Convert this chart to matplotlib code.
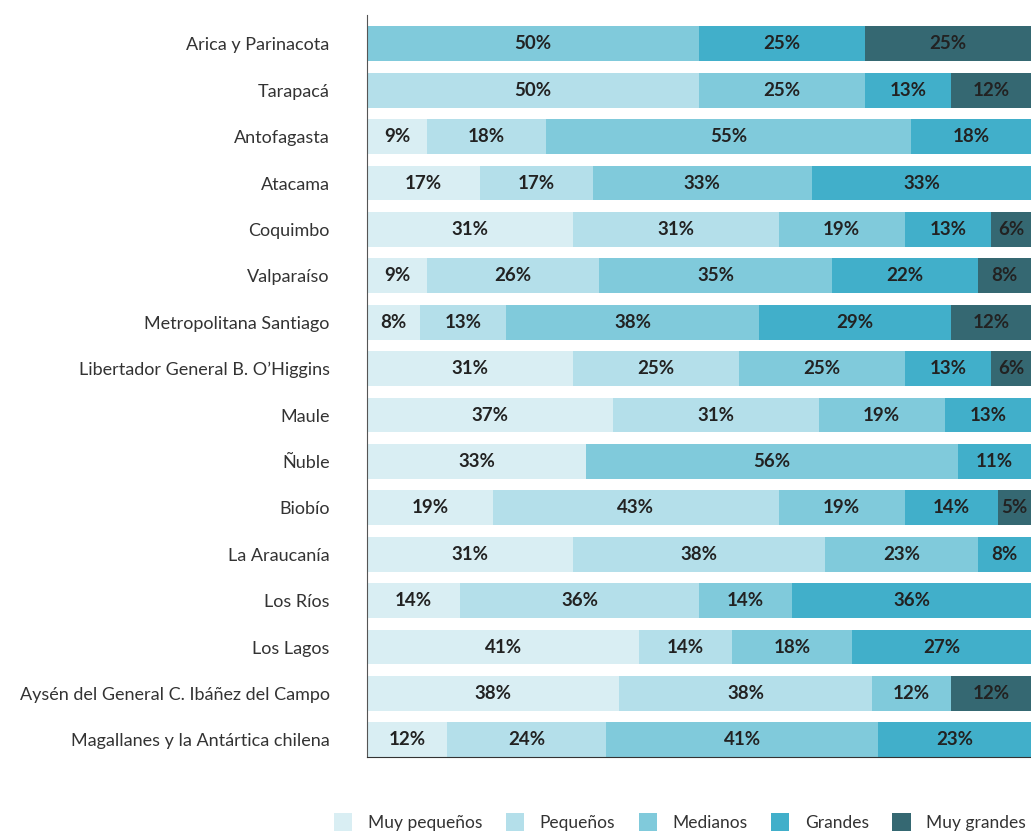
import numpy as np
import matplotlib.pyplot as plt

regiones = [
    "Arica y Parinacota", "Tarapacá", "Antofagasta", "Atacama", "Coquimbo",
    "Valparaíso", "Metropolitana Santiago", "Libertador General B. O’Higgins",
    "Maule", "Ñuble", "Biobío", "La Araucanía", "Los Ríos", "Los Lagos",
    "Aysén del General C. Ibáñez del Campo", "Magallanes y la Antártica chilena",
]
categorias = ["Muy pequeños", "Pequeños", "Medianos", "Grandes", "Muy grandes"]

muy_pequenos = [0, 0, 9, 17, 31, 9, 8, 31, 37, 33, 19, 31, 14, 41, 38, 12]
pequenos = [0, 50, 18, 17, 31, 26, 13, 25, 31, 0, 43, 38, 36, 14, 38, 24]
medianos = [50, 25, 55, 33, 19, 35, 38, 25, 19, 56, 19, 23, 14, 18, 12, 41]
grandes = [25, 13, 18, 33, 13, 22, 29, 13, 13, 11, 14, 8, 36, 27, 0, 23]
muy_grandes = [25, 12, 0, 0, 6, 8, 12, 6, 0, 0, 5, 0, 0, 0, 12, 0]

colores = ["#d9eef3", "#b4dfea", "#80cadb", "#41afca", "#356872"]

plt.rcParams["font.family"] = ["Lato", "DejaVu Sans"]

fig = plt.figure(figsize=(10.31, 8.33), dpi=100)
ax = fig.add_axes([0.356, 0.0912, 0.644, 0.891])

series = [muy_pequenos, pequenos, medianos, grandes, muy_grandes]
y = np.arange(len(regiones))
left = np.zeros(len(regiones))
for nombre, valores, color in zip(categorias, series, colores):
    valores = np.array(valores, dtype=float)
    ax.barh(y, valores, left=left, height=0.75, color=color, label=nombre)
    for yi, li, v in zip(y, left, valores):
        if v > 0:
            ax.text(li + v / 2, yi, f"{v:.0f}%", ha="center", va="center",
                    fontsize=13.5, fontweight="bold", color="#222222")
    left += valores

ax.set_xlim(0, 100)
ax.set_ylim(15.37, -0.625)
ax.set_yticks(y)
ax.set_yticklabels(regiones, fontsize=13, color="#333333")
ax.tick_params(axis="y", length=0, pad=27)
ax.set_xticks([])
for lado in ["top", "right"]:
    ax.spines[lado].set_visible(False)
ax.spines["left"].set_color("#555555")
ax.spines["bottom"].set_color("#333333")

fig.legend(loc="lower left", bbox_to_anchor=(0.309, -0.016), ncol=5,
           frameon=False, fontsize=12.5, handlelength=1.05, handleheight=1.2,
           columnspacing=1.35, handletextpad=0.9, labelcolor="#333333")

fig.savefig("out.png", dpi=100)
